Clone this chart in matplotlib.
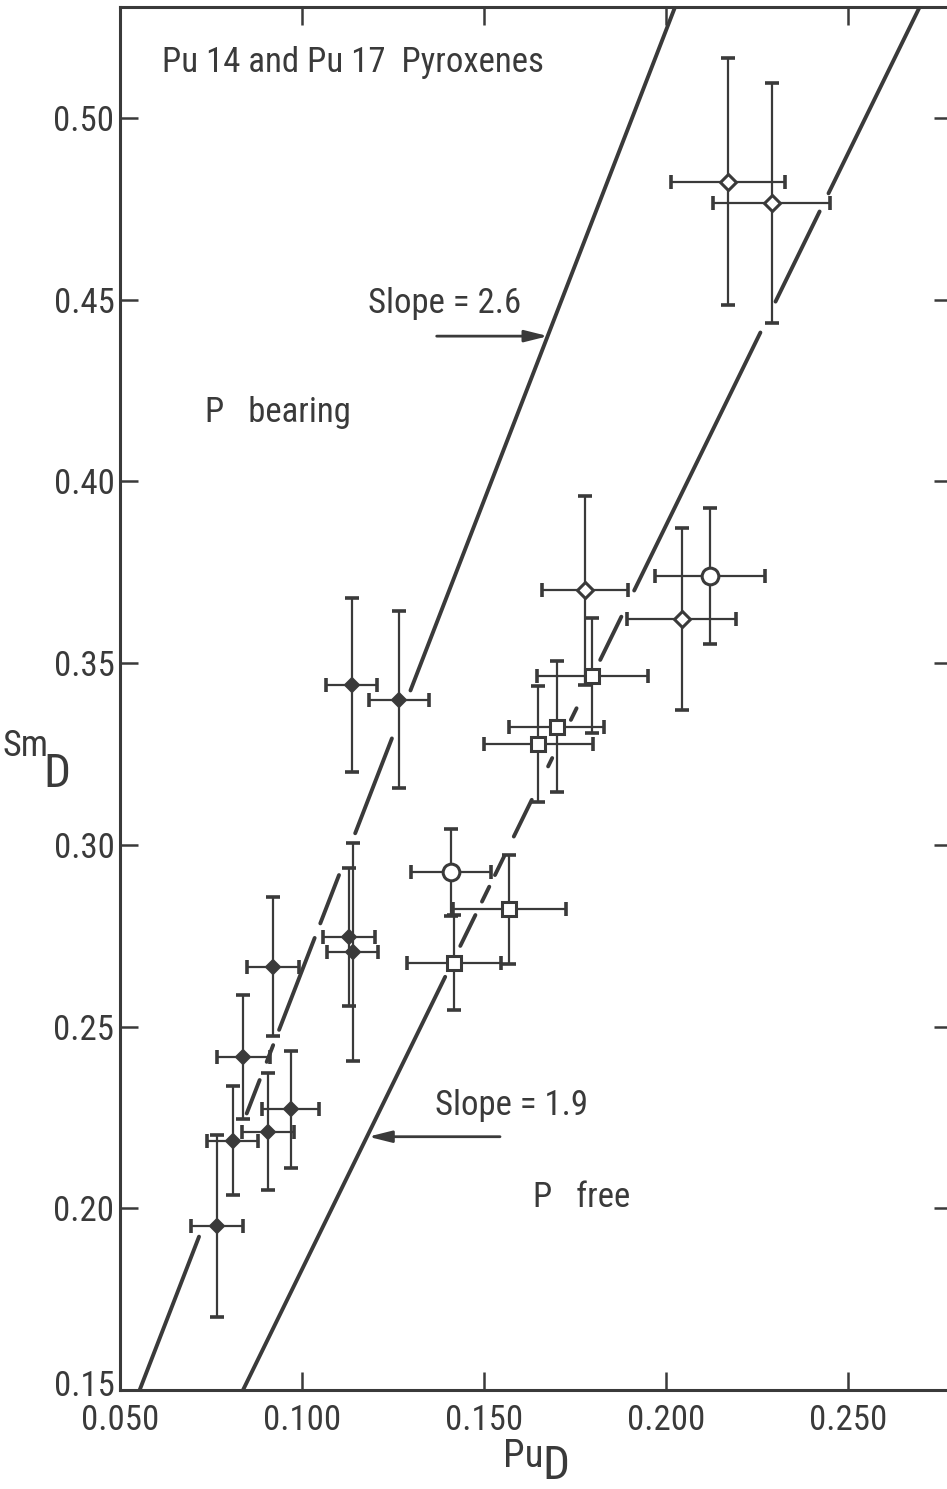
import matplotlib
matplotlib.use("Agg")
import matplotlib.pyplot as plt
from matplotlib import font_manager
from matplotlib.transforms import ScaledTranslation
import numpy as np

# narrow lettering if we have it, else something close
installed = {f.name for f in font_manager.fontManager.ttflist}
FONT, FS = "DejaVu Sans", 18
for fam, size in [("Roboto Condensed", 25), ("Liberation Sans Narrow", 23),
                  ("DejaVu Sans Condensed", 20), ("Roboto", 21)]:
    if fam in installed:
        FONT, FS = fam, size
        break
plt.rcParams['font.family'] = [FONT, 'DejaVu Sans']

INK = "#3a3a3a"

# P bearing pyroxenes (filled diamonds)
pb_x = [0.1137, 0.1267, 0.0921, 0.1129, 0.1139, 0.0839, 0.0969, 0.0907, 0.0810, 0.0767]
pb_y = [0.3440, 0.3400, 0.2665, 0.2747, 0.2706, 0.2416, 0.2272, 0.2211, 0.2186, 0.1951]
pb_xerr = [0.0070, 0.0082, 0.0071, 0.0072, 0.0070, 0.0073, 0.0078, 0.0071, 0.0070, 0.0071]
pb_yerr = [0.0240, 0.0243, 0.0192, 0.0190, 0.0300, 0.0170, 0.0160, 0.0160, 0.0150, 0.0250]

# open diamonds
od_x = [0.2171, 0.2290, 0.1777, 0.2043]
od_y = [0.4825, 0.4766, 0.3701, 0.3622]
od_xerr = [0.0157, 0.0160, 0.0119, 0.0150]
od_yerr = [0.0340, 0.0330, 0.0260, 0.0250]

# open circles
oc_x = [0.2121, 0.1409]
oc_y = [0.3740, 0.2925]
oc_xerr = [0.0150, 0.0110]
oc_yerr = [0.0187, 0.0120]

# open squares
os_x = [0.1418, 0.1570, 0.1649, 0.1700, 0.1798]
os_y = [0.2676, 0.2823, 0.3277, 0.3325, 0.3466]
os_xerr = [0.0130, 0.0155, 0.0150, 0.0130, 0.0152]
os_yerr = [0.0130, 0.0150, 0.0159, 0.0180, 0.0158]

# hand drawn lines (end points)
line_steep_x = [0.0554, 0.2025]
line_steep_y = [0.150, 0.5306]
line_flat_x = [0.0838, 0.2697]
line_flat_y = [0.150, 0.5306]

xticks = [0.050, 0.100, 0.150, 0.200, 0.250]
xtick_labels = ["0.050", "0.100", "0.150", "0.200", "0.250"]
yticks = [0.15, 0.20, 0.25, 0.30, 0.35, 0.40, 0.45, 0.50]
ytick_labels = ["0.15", "0.20", "0.25", "0.30", "0.35", "0.40", "0.45", "0.50"]

W, H = 947, 1489
fig = plt.figure(figsize=(W / 100, H / 100), dpi=100)
ax = fig.add_axes([120 / W, 99 / H, 832 / W, 1383 / H])
ax.set_xlim(0.050, 0.050 + 832 / 3640)
ax.set_ylim(0.150, 0.150 + 1383 / 3634)


def draw_line(xs, ys, pieces):
    # line broken into visible pieces (gaps where it runs through the data)
    for y0, y1 in pieces:
        yy = np.array([y0, y1])
        xx = np.interp(yy, ys, xs)
        ax.plot(xx, yy, color=INK, lw=2.8, solid_capstyle="round", zorder=2)


draw_line(line_steep_x, line_steep_y,
          [(0.3425, 0.5306), (0.3032, 0.3293), (0.2784, 0.2917), (0.2491, 0.2744),
           (0.2403, 0.2449), (0.2261, 0.2353), (0.150, 0.1922)])
draw_line(line_flat_x, line_flat_y,
          [(0.150, 0.2637), (0.2722, 0.2807), (0.2844, 0.2885), (0.2917, 0.2969),
           (0.3023, 0.3124), (0.3216, 0.3239), (0.3344, 0.3376), (0.3509, 0.3628),
           (0.370, 0.441), (0.4495, 0.4743), (0.4793, 0.5306)])

eb = dict(fmt="none", ecolor=INK, elinewidth=1.6, capsize=5, capthick=2.6, zorder=3)
ax.errorbar(pb_x, pb_y, xerr=pb_xerr, yerr=pb_yerr, **eb)
ax.errorbar(od_x, od_y, xerr=od_xerr, yerr=od_yerr, **eb)
ax.errorbar(oc_x, oc_y, xerr=oc_xerr, yerr=oc_yerr, **eb)
ax.errorbar(os_x, os_y, xerr=os_xerr, yerr=os_yerr, **eb)

ax.plot(pb_x, pb_y, "D", ms=7.5, mfc=INK, mec=INK, mew=1.5, ls="none", zorder=4)
ax.plot(od_x, od_y, "D", ms=8.5, mfc="white", mec=INK, mew=2.2, ls="none", zorder=4)
ax.plot(oc_x, oc_y, "o", ms=12, mfc="white", mec=INK, mew=2.2, ls="none", zorder=4)
ax.plot(os_x, os_y, "s", ms=9.5, mfc="white", mec=INK, mew=2.2, ls="none", zorder=4)

# text
ax.text(0.0615, 0.5127, "Pu 14 and Pu 17  Pyroxenes", fontsize=FS, color=INK, va="baseline")
ax.text(0.0734, 0.4164, "P   bearing", fontsize=FS, color=INK, va="baseline")
ax.text(0.1181, 0.4464, "Slope = 2.6", fontsize=FS, color=INK, va="baseline")
ax.text(0.1365, 0.2257, "Slope = 1.9", fontsize=FS, color=INK, va="baseline")
ax.text(0.1635, 0.2004, "P   free", fontsize=FS, color=INK, va="baseline")

arrow = dict(arrowstyle="-|>,head_length=1.4,head_width=0.35", color=INK, lw=2.0,
             shrinkA=0, shrinkB=0)
ax.annotate("", xy=(0.1676, 0.4400), xytext=(0.1370, 0.4400), arrowprops=arrow)
ax.annotate("", xy=(0.1182, 0.2197), xytext=(0.1544, 0.2197), arrowprops=arrow)

# axis labels: large lowered "D" subscript as in the original lettering
fig.text(503 / W, 1 - 1467 / H, "Pu", fontsize=FS + 3, color=INK, va="baseline")
fig.text(542 / W, 1 - 1488 / H, "D", fontsize=FS + 9, color=INK, va="bottom")
fig.text(3 / W, 1 - 756 / H, "Sm", fontsize=FS + 1, color=INK, va="baseline")
fig.text(43 / W, 1 - 787 / H, "D", fontsize=FS + 9, color=INK, va="baseline")

ax.set_xticks(xticks)
ax.set_xticklabels(xtick_labels)
ax.set_yticks(yticks)
ax.set_yticklabels(ytick_labels)
ax.tick_params(direction="in", length=13, width=1.8, colors=INK, labelsize=FS,
               top=True, right=True)
ax.tick_params(axis="x", pad=10)
ax.tick_params(axis="y", pad=4)
for sp in ax.spines.values():
    sp.set_linewidth(2.2)
    sp.set_color(INK)

# the lowest y label sits a little high, clear of the corner x label
low = ax.get_yticklabels()[0]
low.set_transform(low.get_transform() + ScaledTranslation(0, 0.07, fig.dpi_scale_trans))

fig.savefig("out.png", dpi=100)
